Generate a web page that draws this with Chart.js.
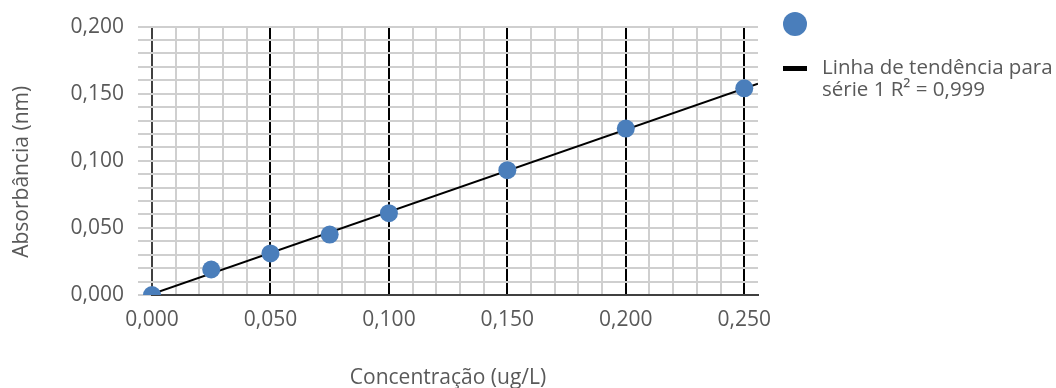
<!DOCTYPE html>
<html>
<head>
<meta charset="utf-8">
<script src="https://cdn.jsdelivr.net/npm/chart.js@4.4.1/dist/chart.umd.min.js"></script>
<style>
  html, body { margin: 0; padding: 0; background: #ffffff; }
  canvas { display: block; }
</style>
</head>
<body>
<canvas id="chart" width="1056" height="388"></canvas>
<script>
// Calibration points: concentration (ug/L) vs absorbance
const concentrations = [0.000, 0.025, 0.050, 0.075, 0.100, 0.150, 0.200, 0.250];
const absorbances    = [0.000, 0.019, 0.031, 0.045, 0.061, 0.093, 0.124, 0.154];

// Axis ranges and tick values
const xMin = 0;
const xMax = 0.2558;
const yMin = 0;
const yMax = 0.200;
const minorStep = 0.01;
const xMajorTicks = [0.050, 0.100, 0.150, 0.200, 0.250];

const seriesName = '';
const trendLabel = 'Linha de tendência para';
const trendLabel2 = 'série 1';
const xTitle = 'Concentração (ug/L)';
const yTitle = 'Absorbância (nm)';

const FONT = '"Open Sans", "Noto Sans", sans-serif';
const TEXT = '#595959';
const GRID = '#cfcfcf';
const AXIS = '#404040';
const BLUE = '#4a7ebb';

// least-squares trend line through the calibration points
function linearFit(xs, ys) {
  const n = xs.length;
  const mx = xs.reduce((a, b) => a + b, 0) / n;
  const my = ys.reduce((a, b) => a + b, 0) / n;
  let sxy = 0, sxx = 0, syy = 0;
  for (let i = 0; i < n; i++) {
    sxy += (xs[i] - mx) * (ys[i] - my);
    sxx += (xs[i] - mx) ** 2;
    syy += (ys[i] - my) ** 2;
  }
  const slope = sxy / sxx;
  const intercept = my - slope * mx;
  let ssRes = 0;
  for (let i = 0; i < n; i++) ssRes += (ys[i] - (slope * xs[i] + intercept)) ** 2;
  return { slope, intercept, r2: 1 - ssRes / syy };
}
const fit = linearFit(concentrations, absorbances);
const trendPoints = [xMin, xMax].map(x => ({ x, y: fit.slope * x + fit.intercept }));

const fmt = v => v.toFixed(3).replace('.', ',');
const isMajor = v => Math.round(v * 1000) % 50 === 0;
const stepTicks = (lo, hi) => {
  const out = [];
  for (let i = Math.round(lo / minorStep); i * minorStep <= hi + 1e-9; i++) out.push({ value: +(i * minorStep).toFixed(3) });
  return out;
};

// axis titles and the legend, placed around the plot area
const chartText = {
  id: 'chartText',
  afterDraw(chart) {
    const ctx = chart.ctx;
    const area = chart.chartArea;
    ctx.save();
    ctx.fillStyle = TEXT;
    ctx.font = '21px ' + FONT;
    ctx.textAlign = 'center';
    ctx.textBaseline = 'middle';
    ctx.fillText(xTitle, (area.left + area.right) / 2 - 7, 378);
    ctx.save();
    ctx.translate(22, (area.top + area.bottom) / 2 + 11);
    ctx.rotate(-Math.PI / 2);
    ctx.fillText(yTitle, 0, 0);
    ctx.restore();

    ctx.fillStyle = BLUE;
    ctx.beginPath();
    ctx.arc(795, 24, 12, 0, Math.PI * 2);
    ctx.fill();
    ctx.fillStyle = '#000000';
    ctx.fillRect(783, 66, 24, 5);
    ctx.fillStyle = TEXT;
    ctx.font = '20.5px ' + FONT;
    ctx.textAlign = 'left';
    ctx.fillText(trendLabel, 822, 68);
    ctx.fillText(trendLabel2 + ' R² = ' + fit.r2.toFixed(3).replace('.', ','), 822, 90);
    ctx.restore();
  }
};

new Chart(document.getElementById('chart'), {
  type: 'scatter',
  data: {
    datasets: [
      {
        label: seriesName,
        data: concentrations.map((x, i) => ({ x, y: absorbances[i] })),
        backgroundColor: BLUE,
        borderWidth: 0,
        pointRadius: 9,
        pointHoverRadius: 9,
        clip: { left: false, top: false, right: false, bottom: 0 }
      },
      {
        label: trendLabel,
        type: 'line',
        data: trendPoints,
        borderColor: '#000000',
        borderWidth: 2,
        pointRadius: 0,
        fill: false,
        tension: 0
      }
    ]
  },
  options: {
    responsive: false,
    animation: false,
    events: [],
    layout: { padding: { top: 25, right: 298, left: 0, bottom: 0 } },
    plugins: { legend: { display: false }, tooltip: { enabled: false } },
    scales: {
      x: {
        type: 'linear',
        min: xMin,
        max: xMax,
        afterBuildTicks: s => { s.ticks = stepTicks(xMin, xMax); },
        afterFit: s => { s.height = 93; },
        grid: {
          color: c => (c.tick && c.tick.value === 0) ? AXIS : GRID,
          lineWidth: 2, drawTicks: false, z: -4
        },
        border: { color: AXIS, width: 2, z: 0 },
        ticks: {
          autoSkip: false, maxRotation: 0, padding: 12, color: TEXT,
          font: { family: FONT, size: 21 },
          callback: v => isMajor(v) ? fmt(v) : ''
        }
      },
      xMajor: {
        type: 'linear',
        position: 'bottom',
        min: xMin,
        max: xMax,
        afterBuildTicks: s => { s.ticks = xMajorTicks.map(v => ({ value: v })); },
        afterFit: s => { s.height = 0; },
        grid: { color: '#000000', lineWidth: 2, drawTicks: false, z: -3 },
        border: { display: false },
        ticks: { display: false }
      },
      y: {
        type: 'linear',
        min: yMin,
        max: yMax,
        afterBuildTicks: s => { s.ticks = stepTicks(yMin, yMax); },
        afterFit: s => { s.width = 152; },
        grid: { color: GRID, lineWidth: 2, tickLength: 14, tickColor: GRID, z: -1 },
        border: { display: false },
        ticks: {
          autoSkip: false, padding: 14, color: TEXT,
          font: { family: FONT, size: 21 },
          callback: v => isMajor(v) ? fmt(v) : ''
        }
      }
    }
  },
  plugins: [chartText]
});
</script>
</body>
</html>
